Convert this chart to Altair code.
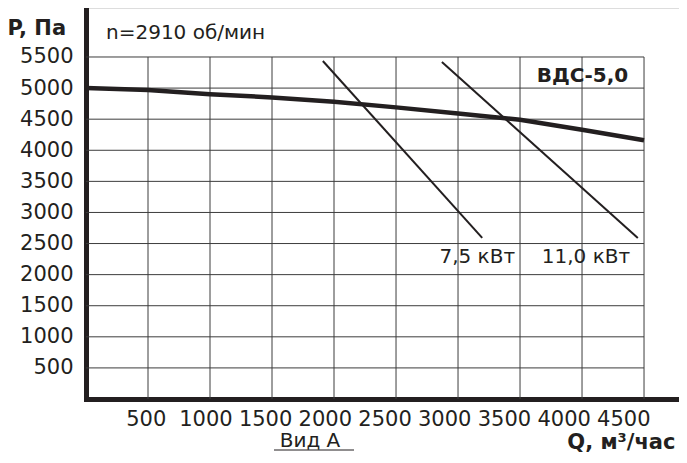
import altair as alt
import pandas as pd

# ---- data ----
q_ticks = [500, 1000, 1500, 2000, 2500, 3000, 3500, 4000, 4500]
p_ticks = [500, 1000, 1500, 2000, 2500, 3000, 3500, 4000, 4500, 5000, 5500]

q_curve = [0, 500, 1000, 1500, 2000, 2500, 3000, 3500, 4000, 4500]
p_curve = [5000, 4970, 4900, 4850, 4780, 4690, 4590, 4490, 4330, 4160]

q_75 = [1910, 3195]
p_75 = [5435, 2590]
q_110 = [2870, 4450]
p_110 = [5420, 2590]

ann_text = ["ВДС-5,0", "7,5 кВт", "11,0 кВт"]
ann_q = [4372, 3460, 4388]
ann_p = [5100, 2190, 2190]
ann_bold = ["bold", "normal", "normal"]

INK = "#231f20"
GRID = "#3c3c3c"
FONT = "DejaVu Sans"

X_MAX = 4782
Y_MAX = 6288

xs = alt.Scale(domain=[0, X_MAX], nice=False, zero=False)
ys = alt.Scale(domain=[0, Y_MAX], nice=False, zero=False)

X_AX = alt.Axis(
    values=q_ticks, format="d", grid=False, ticks=False, domainWidth=5, domainColor=INK,
    domainCap="square",
    labelFont=FONT, labelFontSize=21, labelColor=INK, labelPadding=9,
    labelOffset={"expr": "-datum.value/500*2.3"},
    title="Q, м³/час", titleFont=FONT, titleFontSize=21, titleFontWeight="bold",
    titleColor=INK, titleAlign="right", titleBaseline="alphabetic",
    titleX=589, titleY=49, titleAnchor="end",
)
Y_AX = alt.Axis(
    values=p_ticks, format="d", grid=False, ticks=False, domainWidth=5, domainColor=INK,
    domainCap="square",
    labelFont=FONT, labelFontSize=21, labelColor=INK, labelPadding=13,
    title="P, Па", titleFont=FONT, titleFontSize=21, titleFontWeight="bold",
    titleColor=INK, titleAngle=0, titleAlign="left", titleBaseline="alphabetic",
    titleX=-79, titleY=26,
)

grid_v = pd.DataFrame({"q": q_ticks, "p": [0] * len(q_ticks), "p2": [max(p_ticks)] * len(q_ticks)})
grid_h = pd.DataFrame({"p": p_ticks, "q": [0] * len(p_ticks), "q2": [max(q_ticks)] * len(p_ticks)})
curve = pd.DataFrame({"q": q_curve, "p": p_curve})
pw = pd.DataFrame({
    "q": q_75 + q_110,
    "p": p_75 + p_110,
    "s": ["7.5"] * len(q_75) + ["11.0"] * len(q_110),
})
ann = pd.DataFrame({"q": ann_q, "p": ann_p, "t": ann_text, "w": ann_bold})

vgrid = alt.Chart(grid_v).mark_rule(color=GRID, strokeWidth=1).encode(
    x=alt.X("q:Q", scale=xs, axis=X_AX),
    y=alt.Y("p:Q", scale=ys, axis=Y_AX),
    y2="p2:Q",
)
hgrid = alt.Chart(grid_h).mark_rule(color=GRID, strokeWidth=1).encode(
    x=alt.X("q:Q", scale=xs, axis=X_AX),
    x2="q2:Q",
    y=alt.Y("p:Q", scale=ys, axis=Y_AX),
)
main = alt.Chart(curve).mark_line(color=INK, strokeWidth=4.5).encode(
    x=alt.X("q:Q", scale=xs, axis=X_AX),
    y=alt.Y("p:Q", scale=ys, axis=Y_AX),
)
power = alt.Chart(pw).mark_line(color=INK, strokeWidth=2).encode(
    x=alt.X("q:Q", scale=xs, axis=X_AX),
    y=alt.Y("p:Q", scale=ys, axis=Y_AX),
    detail="s:N",
)
ann_b = alt.Chart(ann[ann.w == "bold"]).mark_text(
    font=FONT, fontSize=20, fontWeight="bold", color=INK, align="right", baseline="alphabetic"
).encode(
    x=alt.X("q:Q", scale=xs, axis=X_AX),
    y=alt.Y("p:Q", scale=ys, axis=Y_AX),
    text="t:N",
)
ann_n = alt.Chart(ann[ann.w == "normal"]).mark_text(
    font=FONT, fontSize=20, color=INK, align="right", baseline="alphabetic"
).encode(
    x=alt.X("q:Q", scale=xs, axis=X_AX),
    y=alt.Y("p:Q", scale=ys, axis=Y_AX),
    text="t:N",
)
speed = alt.Chart(pd.DataFrame({"t": ["n=2910 об/мин"]})).mark_text(
    font=FONT, fontSize=20, color=INK, align="left", baseline="alphabetic"
).encode(x=alt.value(20), y=alt.value(31), text="t:N")
vid = alt.Chart(pd.DataFrame({"t": ["Вид А"]})).mark_text(
    font=FONT, fontSize=20, color=INK, align="center", baseline="alphabetic"
).encode(x=alt.value(224), y=alt.value(439), text="t:N")
vid_line = alt.Chart(pd.DataFrame({"t": ["Вид А"]})).mark_rule(color=INK, strokeWidth=1.2).encode(
    x=alt.value(188), x2=alt.value(268), y=alt.value(442)
)

chart = alt.layer(vgrid, hgrid, main, power, ann_b, ann_n, speed, vid, vid_line).properties(
    width=593, height=391,
    autosize=alt.AutoSizeParams(type="none"),
    padding={"left": 78, "top": 0, "right": 0, "bottom": 55},
).configure_view(stroke=None).configure(background="white")

chart.save("out.html", embed_options={"renderer": "svg", "actions": False})
